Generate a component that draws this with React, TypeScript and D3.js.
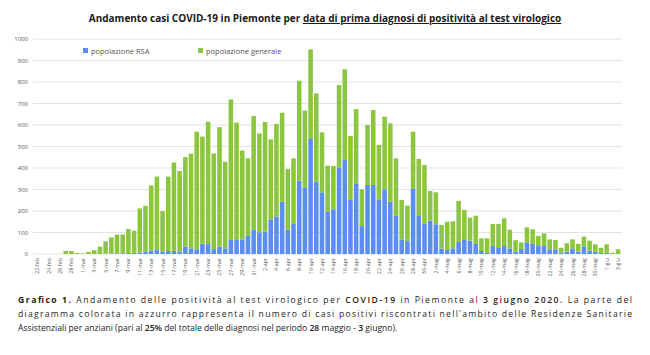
import React from "react";
import * as d3 from "d3";

const dates = [
  "22-feb","23-feb","24-feb","25-feb","26-feb","27-feb","28-feb","29-feb",
  "1-mar","2-mar","3-mar","4-mar","5-mar","6-mar","7-mar","8-mar","9-mar","10-mar","11-mar","12-mar","13-mar","14-mar","15-mar","16-mar","17-mar","18-mar","19-mar","20-mar","21-mar","22-mar","23-mar","24-mar","25-mar","26-mar","27-mar","28-mar","29-mar","30-mar","31-mar",
  "1-apr","2-apr","3-apr","4-apr","5-apr","6-apr","7-apr","8-apr","9-apr","10-apr","11-apr","12-apr","13-apr","14-apr","15-apr","16-apr","17-apr","18-apr","19-apr","20-apr","21-apr","22-apr","23-apr","24-apr","25-apr","26-apr","27-apr","28-apr","29-apr","30-apr",
  "1-mag","2-mag","3-mag","4-mag","5-mag","6-mag","7-mag","8-mag","9-mag","10-mag","11-mag","12-mag","13-mag","14-mag","15-mag","16-mag","17-mag","18-mag","19-mag","20-mag","21-mag","22-mag","23-mag","24-mag","25-mag","26-mag","27-mag","28-mag","29-mag","30-mag","31-mag",
  "1-giu","2-giu","3-giu"
];

// total daily diagnoses
const totals = [
  0,0,0,0,0,14,14,5,3,10,18,34,59,77,90,91,116,108,212,224,
  319,360,200,360,425,386,451,467,569,546,615,468,590,429,719,611,481,445,642,561,
  614,533,605,657,395,445,806,667,952,747,566,411,409,786,859,549,674,301,600,670,
  507,639,608,445,251,225,569,442,414,293,287,135,150,152,247,205,169,178,73,73,
  140,140,166,113,64,54,124,115,84,96,68,65,29,50,68,47,81,62,45,29,45,6,22
];

// popolazione RSA
const rsa = [
  0,0,0,0,0,0,0,0,0,0,0,0,2,2,3,3,5,6,6,12,
  15,18,12,14,15,12,34,26,22,48,46,23,34,26,65,65,68,84,112,101,
  104,161,174,243,112,143,341,310,535,336,287,197,208,402,437,251,326,130,321,321,
  254,301,243,177,68,60,305,177,140,155,138,25,19,26,56,65,62,47,14,6,
  37,28,37,26,11,23,54,47,37,37,22,19,6,11,25,11,35,15,10,5,7,0,0
];

const yTicks = [0, 100, 200, 300, 400, 500, 600, 700, 800, 900, 1000];
const seriesNames = ["popolazione RSA", "popolazione generale"];
const BLUE = "#5b8ef0";
const GREEN = "#8cc63f";
const FONT = "'Open Sans', 'DejaVu Sans', sans-serif";

export default function App() {
  const W = 650, H = 355;
  const x = d3.scaleBand<string>().domain(dates).range([34.45, 620.9]).paddingInner(0.2).paddingOuter(0.1);
  const y = d3.scaleLinear().domain([0, 1000]).range([254, 39]);
  const generale = totals.map((t, i) => t - rsa[i]);
  const rows = dates.map((d, i) => ({ date: d, rsa: rsa[i], gen: generale[i] }));
  const stack = d3.stack<any>().keys(["rsa", "gen"])(rows);
  const colors = [BLUE, GREEN];
  const bw = x.bandwidth();

  return (
    <svg width={W} height={H} style={{ position: "absolute", left: 0, top: 0, background: "#fff" }}>
      <rect width={W} height={H} fill="#fff" />
      {/* Title */}
      <text x={325} y={22} textAnchor="middle" fontFamily={FONT} fontSize={10} fontWeight={700} fill="#1a1a1a">
        <tspan>Andamento casi COVID-19 in Piemonte per </tspan>
        <tspan textDecoration="underline" style={{ textDecoration: "underline" }}>data di prima diagnosi di positività al test virologico</tspan>
      </text>
      {/* gridlines */}
      {yTicks.map((t) => (
        <g key={t}>
          <line x1={33} x2={622} y1={y(t)} y2={y(t)} stroke="#e3e3e3" strokeWidth={1} />
          <text x={28} y={y(t) + 2} textAnchor="end" fontFamily={FONT} fontSize={6} fill="#555">{t}</text>
        </g>
      ))}
      {/* bars */}
      {stack.map((s, si) => (
        <g key={si} fill={colors[si]}>
          {s.map((d: any, i: number) => {
            const h = y(d[0]) - y(d[1]);
            if (h <= 0) return null;
            return <rect key={i} x={x(dates[i])} y={y(d[1])} width={bw} height={h} />;
          })}
        </g>
      ))}
      {/* x labels */}
      {dates.map((d, i) => i % 2 === 0 ? (
        <text key={d} transform={`translate(${(x(d) as number) + bw / 2 + 2},258) rotate(-90)`} textAnchor="end"
          fontFamily={FONT} fontSize={5.3} fill="#555">{d}</text>
      ) : null)}
      {/* legend */}
      <rect x={83} y={48} width={5} height={5} fill={BLUE} />
      <text x={91} y={54} fontFamily={FONT} fontSize={7.5} fill="#555">{seriesNames[0]}</text>
      <rect x={198} y={48} width={5} height={5} fill={GREEN} />
      <text x={206} y={54} fontFamily={FONT} fontSize={7.5} fill="#555">{seriesNames[1]}</text>
      {/* caption */}
      <g fontFamily={FONT} fontSize={8.6} fill="#222">
        <text x={18} y={303} textLength={614} lengthAdjust="spacing">
          <tspan fontWeight={700}>Grafico 1.</tspan>
          <tspan> Andamento delle positività al test virologico per </tspan>
          <tspan fontWeight={600}>COVID-19</tspan>
          <tspan> in Piemonte al </tspan>
          <tspan fontWeight={600}>3 giugno 2020.</tspan>
          <tspan> La parte del</tspan>
        </text>
        <text x={18} y={317} textLength={614} lengthAdjust="spacing">
          diagramma colorata in azzurro rappresenta il numero di casi positivi riscontrati nell'ambito delle Residenze Sanitarie
        </text>
        <text x={18} y={331}>
          <tspan>Assistenziali per anziani (pari al </tspan>
          <tspan fontWeight={600}>25%</tspan>
          <tspan> del totale delle diagnosi nel periodo </tspan>
          <tspan fontWeight={600}>28</tspan>
          <tspan> maggio - </tspan>
          <tspan fontWeight={600}>3</tspan>
          <tspan> giugno).</tspan>
        </text>
      </g>
    </svg>
  );
}
